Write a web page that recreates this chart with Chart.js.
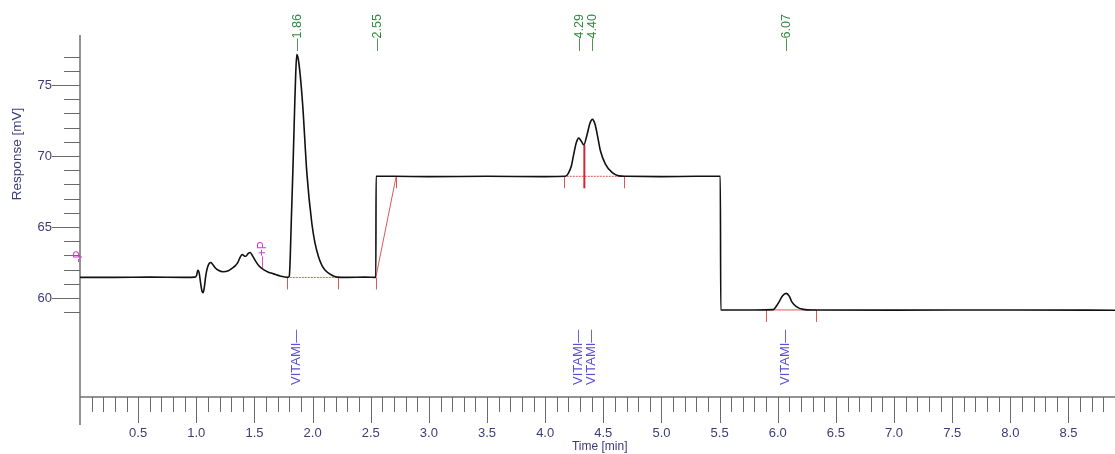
<!DOCTYPE html>
<html>
<head>
<meta charset="utf-8">
<title>Chromatogram</title>
<script src="https://cdn.jsdelivr.net/npm/chart.js@4.4.1/dist/chart.umd.min.js"></script>
<style>
  body { margin: 0; background: #fff; }
  #wrap { width: 1115px; height: 454px; position: relative; }
</style>
</head>
<body>
<div id="wrap"><canvas id="chromatogram"></canvas></div>
<script>
// Detector trace (time in min, response in mV)
var traceTime = [
  0.00, 0.30, 0.60, 0.90, 0.99, 1.003, 1.013, 1.025, 1.038, 1.050, 1.058, 1.068, 1.082, 1.098,
  1.112, 1.125, 1.140, 1.160, 1.190, 1.230, 1.276, 1.305, 1.334, 1.360, 1.380, 1.397, 1.412,
  1.426, 1.445, 1.463, 1.485, 1.510, 1.540, 1.578, 1.620, 1.664, 1.720, 1.784,
  1.800, 1.808, 1.816, 1.830, 1.846, 1.855, 1.864, 1.875, 1.893, 1.916, 1.951, 1.994, 2.020,
  2.051, 2.080, 2.108, 2.166, 2.210, 2.300, 2.450, 2.544, 2.546,
  2.700, 3.000, 3.500, 4.000, 4.174, 4.200, 4.225, 4.245, 4.268, 4.289, 4.310, 4.332, 4.360,
  4.385, 4.406, 4.430, 4.455, 4.475, 4.518, 4.575, 4.632, 4.700, 5.000, 5.300, 5.506, 5.510,
  5.800, 5.960, 5.990, 6.013, 6.040, 6.073, 6.100, 6.120, 6.160, 6.220, 6.300, 7.000, 8.000, 8.900
];
var traceMv = [
  61.45, 61.45, 61.47, 61.45, 61.47, 61.60, 61.95, 61.75, 61.00, 60.45, 60.37, 60.70, 61.60, 62.20,
  62.45, 62.50, 62.38, 62.15, 61.95, 61.85, 61.92, 62.08, 62.26, 62.55, 62.92, 63.06, 62.96,
  62.94, 63.12, 63.20, 62.95, 62.60, 62.25, 62.00, 61.82, 61.70, 61.55, 61.45,
  61.55, 62.90, 65.20, 68.80, 73.50, 75.80, 77.15, 76.90, 75.75, 73.47, 68.78, 65.23, 63.90,
  62.90, 62.30, 61.96, 61.60, 61.47, 61.45, 61.47, 61.45, 68.57,
  68.57, 68.55, 68.57, 68.55, 68.57, 68.80, 69.30, 70.10, 70.95, 71.26, 71.05, 70.79, 71.50,
  72.30, 72.58, 72.20, 71.20, 70.37, 69.43, 68.84, 68.60, 68.57, 68.55, 68.57, 68.57, 59.16,
  59.16, 59.18, 59.45, 59.75, 60.15, 60.33, 60.12, 59.75, 59.40, 59.20, 59.16, 59.15, 59.16, 59.14
];

// Retention time labels (green, top)
var peakTimes = [1.86, 2.55, 4.29, 4.40, 6.07];
var peakLabels = ['1.86', '2.55', '4.29', '4.40', '6.07'];

// Compound names (purple, bottom)
var compoundTimes = [1.86, 4.29, 4.40, 6.07];
var compoundNames = ['VITAMI', 'VITAMI', 'VITAMI', 'VITAMI'];

// Integration baselines (red)
var intStart = [1.778, 2.544, 4.16, 5.90];
var intEnd = [2.222, 2.719, 4.676, 6.33];
var intStartMv = [61.45, 61.45, 68.57, 59.16];
var intEndMv = [61.45, 68.57, 68.57, 59.16];
var intDotted = [true, false, true, false];
var dropTime = [4.337];
var dropTopMv = [70.77];

// Event markers (magenta)
var eventTimes = [0.0, 1.578];
var eventMv = [62.5, 62.1];
var eventLabels = ['-P', '\u2014+P'];

// Axis ticks
var xTickValues = [0.5, 1.0, 1.5, 2.0, 2.5, 3.0, 3.5, 4.0, 4.5, 5.0, 5.5, 6.0, 6.5, 7.0, 7.5, 8.0, 8.5];
var xTickLabels = ['0.5', '1.0', '1.5', '2.0', '2.5', '3.0', '3.5', '4.0', '4.5', '5.0', '5.5', '6.0', '6.5', '7.0', '7.5', '8.0', '8.5'];
var yTickValues = [60, 65, 70, 75];
var yTickLabels = ['60', '65', '70', '75'];

var AXIS_TEXT = '#3b3b78';
var RED = 'rgba(214, 60, 60, 0.85)';

var datasets = [{
  label: 'trace',
  data: traceTime.map(function (t, i) { return { x: t, y: traceMv[i] }; }),
  borderColor: '#111111',
  borderWidth: 1.6,
  pointRadius: 0,
  cubicInterpolationMode: 'monotone',
  fill: false,
  order: 0
}];

intStart.forEach(function (t, i) {
  datasets.push({
    label: 'baseline' + i,
    data: [{ x: t, y: intStartMv[i] }, { x: intEnd[i], y: intEndMv[i] }],
    borderColor: RED,
    borderWidth: 1,
    borderDash: intDotted[i] ? [2, 1] : [],
    pointRadius: 0,
    fill: false,
    order: 1
  });
});

function vText(ctx, text, x, y, color, font) {
  ctx.save();
  ctx.translate(x, y);
  ctx.rotate(-Math.PI / 2);
  ctx.fillStyle = color;
  ctx.font = font;
  ctx.textAlign = 'left';
  ctx.textBaseline = 'middle';
  ctx.fillText(text, 0, 0);
  ctx.restore();
}

var axesPlugin = {
  id: 'chromAxes',
  beforeDatasetsDraw: function (chart) {
    var ctx = chart.ctx;
    var area = chart.chartArea;
    var xs = chart.scales.x;
    var ys = chart.scales.y;
    ctx.save();
    ctx.strokeStyle = '#707070';
    ctx.lineWidth = 1.5;
    ctx.beginPath();
    ctx.moveTo(area.left, area.top);
    ctx.lineTo(area.left, area.bottom + 28);
    ctx.moveTo(area.left, area.bottom);
    ctx.lineTo(area.right, area.bottom);
    ctx.stroke();

    // x ticks every 0.1 min, longer every 0.5
    ctx.lineWidth = 1;
    ctx.strokeStyle = '#6a6a6a';
    for (var k = 1; k <= 89; k++) {
      var px = Math.round(xs.getPixelForValue(k / 10)) + 0.5;
      var len = (k % 5 === 0) ? 26 : 15;
      ctx.beginPath();
      ctx.moveTo(px, area.bottom);
      ctx.lineTo(px, area.bottom + len);
      ctx.stroke();
    }
    // y ticks every 1 mV, longer at labels
    for (var v = 59; v <= 77; v++) {
      var py = Math.round(ys.getPixelForValue(v)) + 0.5;
      var ylen = (v % 5 === 0) ? 28 : 16;
      ctx.beginPath();
      ctx.moveTo(area.left - ylen, py);
      ctx.lineTo(area.left, py);
      ctx.stroke();
    }

    ctx.fillStyle = AXIS_TEXT;
    ctx.font = '13px "Liberation Sans", Arial, sans-serif';
    ctx.textAlign = 'center';
    ctx.textBaseline = 'middle';
    xTickValues.forEach(function (t, i) {
      ctx.fillText(xTickLabels[i], xs.getPixelForValue(t), area.bottom + 36);
    });
    ctx.textAlign = 'right';
    yTickValues.forEach(function (val, i) {
      ctx.fillText(yTickLabels[i], area.left - 28, ys.getPixelForValue(val));
    });

    ctx.font = '12px "Liberation Sans", Arial, sans-serif';
    ctx.textAlign = 'left';
    ctx.fillText('Time [min]', xs.getPixelForValue(4.23), area.bottom + 50);
    ctx.save();
    ctx.translate(17, 154);
    ctx.rotate(-Math.PI / 2);
    ctx.textAlign = 'center';
    ctx.font = '13.5px "Liberation Sans", Arial, sans-serif';
    ctx.fillText('Response [mV]', 0, 0);
    ctx.restore();

    // integration marks
    ctx.strokeStyle = RED;
    ctx.lineWidth = 1;
    function drop(t, mv) {
      var px = Math.round(xs.getPixelForValue(t)) + 0.5;
      var py = ys.getPixelForValue(mv);
      ctx.beginPath();
      ctx.moveTo(px, py);
      ctx.lineTo(px, py + 12);
      ctx.stroke();
    }
    intStart.forEach(function (t, i) {
      drop(t, intStartMv[i]);
      drop(intEnd[i], intEndMv[i]);
    });
    ctx.strokeStyle = '#d42435';
    ctx.lineWidth = 2;
    dropTime.forEach(function (t, i) {
      var px = xs.getPixelForValue(t);
      ctx.beginPath();
      ctx.moveTo(px, ys.getPixelForValue(dropTopMv[i]));
      ctx.lineTo(px, ys.getPixelForValue(68.57) + 12);
      ctx.stroke();
    });
    ctx.restore();
  },
  afterDraw: function (chart) {
    var ctx = chart.ctx;
    var area = chart.chartArea;
    var xs = chart.scales.x;
    var ys = chart.scales.y;
    var font = '12.5px "Liberation Sans", Arial, sans-serif';
    peakTimes.forEach(function (t, i) {
      vText(ctx, '\u2014' + peakLabels[i], xs.getPixelForValue(t) + 1, area.top + 16, '#2f8a3c', font);
    });
    compoundTimes.forEach(function (t, i) {
      vText(ctx, compoundNames[i] + '\u2014', xs.getPixelForValue(t), area.bottom - 12, '#5a4fd6', '13px "Liberation Sans", Arial, sans-serif');
    });
    eventTimes.forEach(function (t, i) {
      vText(ctx, eventLabels[i], xs.getPixelForValue(t) - 1, ys.getPixelForValue(eventMv[i]), '#d23ad2', '12px "Liberation Sans", Arial, sans-serif');
    });
  }
};

var chart = new Chart(document.getElementById('chromatogram').getContext('2d'), {
  type: 'line',
  data: { datasets: datasets },
  options: {
    responsive: true,
    maintainAspectRatio: false,
    animation: false,
    layout: { padding: { left: 80, right: 0, top: 35, bottom: 57 } },
    plugins: { legend: { display: false }, tooltip: { enabled: false } },
    scales: {
      x: { type: 'linear', min: 0, max: 8.9, display: false },
      y: { type: 'linear', min: 53.03, max: 78.52, display: false }
    }
  },
  plugins: [axesPlugin]
});
</script>
</body>
</html>
